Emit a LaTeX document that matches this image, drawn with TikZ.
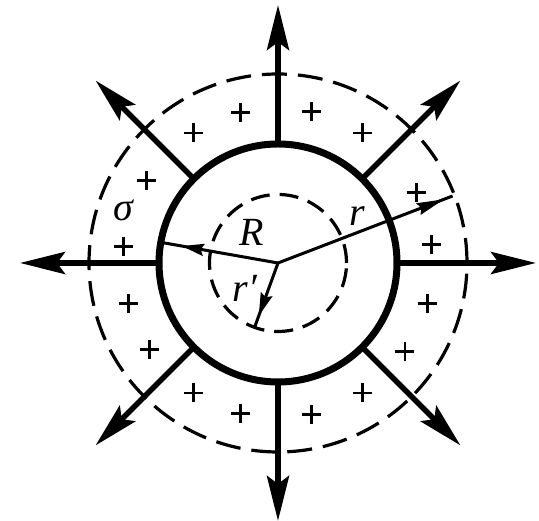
\documentclass[tikz,border=0pt]{standalone}
\usepackage{fontspec}
\setmainfont{Liberation Serif}
\usetikzlibrary{arrows.meta,decorations.markings}
\begin{document}
\begin{tikzpicture}[x=1pt,y=1pt,
  bigarrow/.style={line width=5.5pt,-{Stealth[length=45pt,width=22pt,inset=8pt]}},
  sphere/.style={line width=7pt},
  dashouter/.style={line width=3.2pt,dash pattern=on 25pt off 11pt},
  dashinner/.style={line width=3.2pt,dash pattern=on 19pt off 10pt},
  radline/.style={line width=3pt},
  plussign/.style={line width=2.8pt},
  lbl/.style={font=\fontsize{40}{44}\selectfont\itshape, inner sep=0pt},
  midarrow/.style 2 args={postaction={decorate},decoration={markings,
     mark=at position #1 with {\arrow{Stealth[length=#2,width=12pt,inset=3pt]}}}}
]
\path[use as bounding box] (0,0) rectangle (539,521);
\begin{scope}[shift={(278,258)}]
  % field arrows
  \foreach \a in {0,45,...,315}
    \draw[bigarrow] (\a:119) -- (\a:258);
  % charged sphere
  \draw[sphere] (0,0) circle (119);
  % gaussian surfaces
  \draw[dashouter] (0,0) circle (189);
  \draw[dashinner] (0,0) circle (68.5);
  % radii
  \coordinate (O) at (0,0);
  \coordinate (ER) at (170:119);
  \coordinate (Er) at (21:187);
  \coordinate (Erp) at (-110:68);
  \draw[radline,midarrow={0.82}{22pt}] (O) -- (ER);
  \draw[radline,midarrow={0.95}{27pt}] (O) -- (Er);
  \draw[radline,midarrow={0.83}{23pt}] (O) -- (Erp);
  % charges
  \foreach \a in {77.5,104,57,123,148,174,27,7,-15,-35,-57,-77.5,-104,-123,-146,-165}
    \draw[plussign] (\a:155) +(-9.5,0) -- +(9.5,0) +(0,-9.5) -- +(0,9.5);
\end{scope}
% labels
\node[lbl] (lR) at (252,289) {R};
\node[lbl] (lr) at (357,305) {r};
\node[lbl] (lrp) at (245,233) {r′};
\node[lbl] (ls) at (123,311) {σ};
\end{tikzpicture}
\end{document}
